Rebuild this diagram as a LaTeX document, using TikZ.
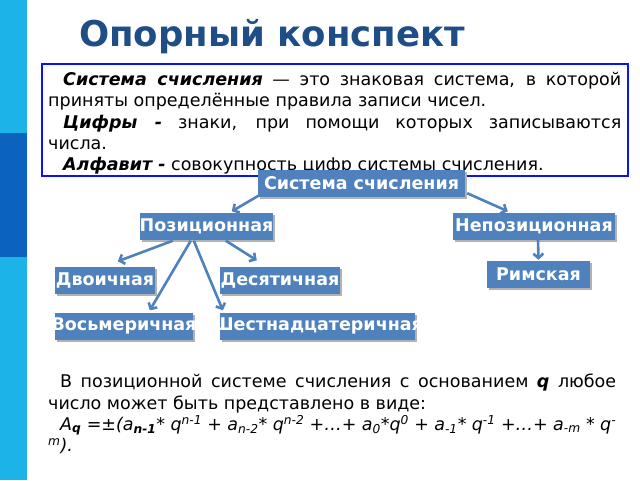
\documentclass[tikz,border=0pt]{standalone}
\usepackage{fontspec}
\setmainfont{DejaVu Sans}
\usetikzlibrary{arrows.meta,calc,shadows}
\definecolor{strip}{HTML}{1CB4E8}
\definecolor{stripdark}{HTML}{0B63BF}
\definecolor{titleblue}{HTML}{1F4E86}
\definecolor{nodeblue}{HTML}{4F81BD}
\definecolor{framblue}{HTML}{0A14F0}
\tikzset{
  blk/.style={fill=nodeblue, text=white, font=\bfseries\fontsize{17.5}{20}\selectfont,
    inner sep=0pt, minimum height=27pt,
    drop shadow={shadow xshift=1.5pt, shadow yshift=-2pt, fill=black!30, opacity=1}},
  arr/.style={draw=nodeblue, line width=2.6pt, -{Straight Barb[length=4.5pt,width=10pt,line width=2.6pt]}},
  bodytext/.style={inner sep=0pt, anchor=north west, text=black}
}
\newcommand{\bx}[2]{\makebox[#1pt]{#2}}
\begin{document}
\begin{tikzpicture}[x=1pt,y=-1pt]
\useasboundingbox (0,0) rectangle (640,480);
\fill[white] (0,0) rectangle (640,480);
% left strip
\fill[strip] (0,0) rectangle (27,480);
\fill[stripdark] (0,133) rectangle (27,257);
% title
\node[text=titleblue, font=\bfseries\fontsize{35.5}{40}\selectfont, inner sep=0pt] (title) at (272,37) {Опорный конспект};
% definition box
\node[draw=framblue, line width=2.5pt, minimum width=586pt, minimum height=112pt, inner sep=0pt] (defbox) at (335,120) {};
\node[bodytext] (deftext) at (48,72) {\parbox{573pt}{\fontsize{17.5}{21.3}\selectfont\setlength{\parindent}{15pt}%
\textbf{\textit{Система счисления}} — это знаковая система, в которой приняты определённые правила записи чисел.\par
\textbf{\textit{Цифры -}} знаки, при помощи которых записываются\linebreak числа.\par
\textbf{\textit{Алфавит -}} совокупность цифр системы счисления.}};
% tree nodes
\node[blk, minimum width=207pt] (sys) at (361.5,183.5) {\bx{207}{Система счисления}};
\node[blk, minimum width=133pt] (pos) at (206.5,226) {\bx{133}{Позиционная}};
\node[blk, minimum width=162pt] (nep) at (534,226) {\bx{162}{Непозиционная}};
\node[blk, minimum width=103pt] (rim) at (538.5,274.5) {\bx{103}{Римская}};
\node[blk, minimum width=100pt] (dvo) at (105,280) {\bx{100}{Двоичная}};
\node[blk, minimum width=120pt] (des) at (280,280) {\bx{120}{Десятичная}};
\node[blk, minimum width=138pt] (vos) at (124,326) {\bx{138}{Восьмеричная}};
\node[blk, minimum width=195pt] (shs) at (317.5,326) {\bx{195}{Шестнадцатеричная}};
% arrows
\draw[arr] ($(sys.south west)+(5,-4)$) -- ($(pos.north west)+(92,-1)$);
\draw[arr] ($(sys.south east)+(2,-4)$) -- ($(nep.north west)+(55,-1)$);
\draw[arr] ($(nep.south)+(4,0)$) -- ($(rim.north)+(0,-1)$);
\draw[arr] ($(pos.south west)+(33,1)$) -- ($(dvo.north west)+(63,-5)$);
\draw[arr] ($(pos.south west)+(51,1)$) -- ($(vos.north west)+(95,-2)$);
\draw[arr] ($(pos.south west)+(54,1)$) -- ($(shs.north west)+(3,-2)$);
\draw[arr] ($(pos.south west)+(86,1)$) -- ($(des.north west)+(37,-6)$);
% bottom text
\node[bodytext] (formula) at (48,374) {\parbox{568pt}{\fontsize{17.5}{21.3}\selectfont\setlength{\parindent}{12pt}%
В позиционной системе счисления с основанием \textbf{\textit{q}} любое число может быть представлено в виде:\par
\textit{A\textsubscript{\textbf{q}} =±(a\textsubscript{\textbf{n-1}}* q\textsuperscript{n-1} + a\textsubscript{n-2}* q\textsuperscript{n-2} +…+ a\textsubscript{0}*q\textsuperscript{0} + a\textsubscript{-1}* q\textsuperscript{-1} +…+ a\textsubscript{-m} * q\textsuperscript{-}}\par
\noindent\textit{\textsuperscript{m}).}}};
\end{tikzpicture}
\end{document}
